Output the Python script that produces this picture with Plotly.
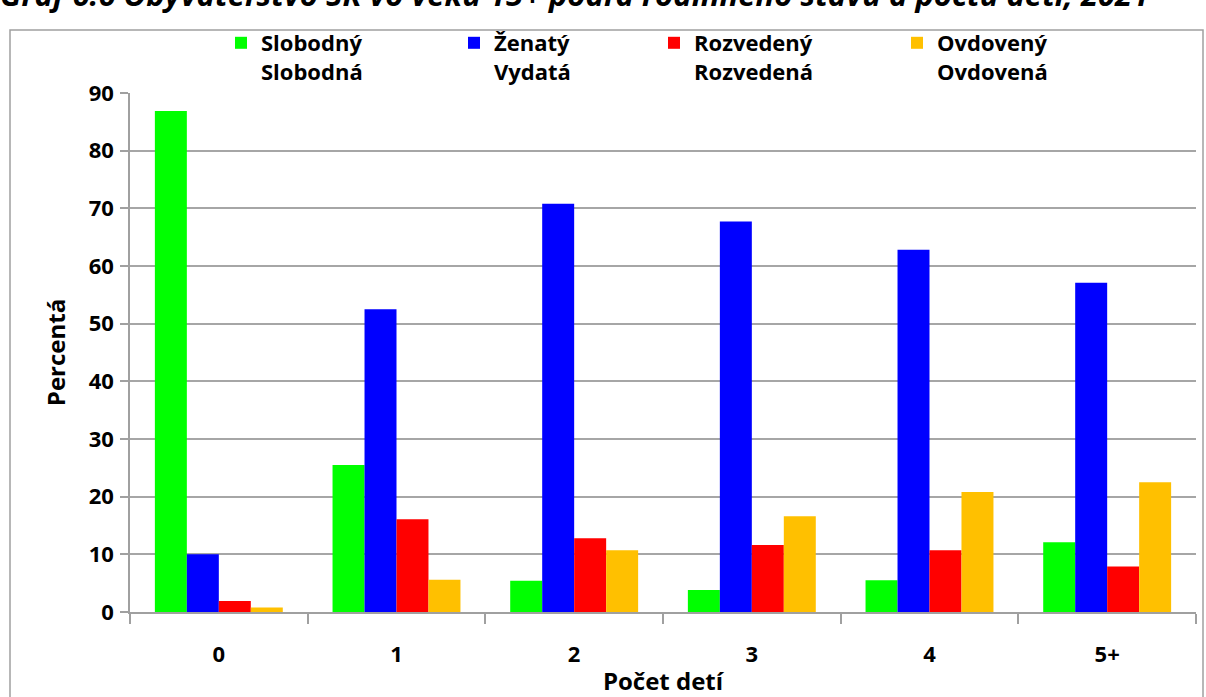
import plotly.graph_objects as go

categories = ["0", "1", "2", "3", "4", "5+"]
series_names = ["Slobodný<br>Slobodná", "Ženatý<br>Vydatá", "Rozvedený<br>Rozvedená", "Ovdovený<br>Ovdovená"]
slobodny = [86.9, 25.5, 5.4, 3.8, 5.5, 12.1]
zenaty = [10.0, 52.5, 70.8, 67.7, 62.8, 57.1]
rozvedeny = [1.9, 16.1, 12.8, 11.6, 10.7, 7.9]
ovdoveny = [0.8, 5.6, 10.7, 16.6, 20.8, 22.5]
colors = ["#00ff00", "#0000ff", "#ff0000", "#ffc000"]
y_ticks = [0, 10, 20, 30, 40, 50, 60, 70, 80, 90]
title_text = "Graf 6.6 Obyvateľstvo SR vo veku 15+ podľa rodinného stavu a počtu detí, 2021"

FONT = "Open Sans"
W, H = 1206, 697
L, R, T, B = 130, 10, 93, 85
pw = W - L - R
ph = H - T - B

def px_to_paper_x(px):
    return (px - L) / pw

def px_to_paper_y(py):
    return 1 - (py - T) / ph

fig = go.Figure()
legend_ids = ["legend", "legend2", "legend3", "legend4"]
for name, vals, col, lg in zip(series_names, [slobodny, zenaty, rozvedeny, ovdoveny], colors, legend_ids):
    fig.add_trace(go.Bar(x=categories, y=vals, name=name, marker=dict(color=col, line=dict(width=0)),
                         legend=lg))

legend_x_px = [221, 454, 654, 897]
legend_common = dict(orientation="v", yanchor="top", xanchor="left", valign="top",
                     font=dict(family=FONT, size=22, color="black", weight="bold"),
                     bgcolor="rgba(0,0,0,0)", borderwidth=0)
layout_legends = {}
for lg, xp in zip(legend_ids, legend_x_px):
    layout_legends[lg] = dict(x=px_to_paper_x(xp), y=px_to_paper_y(22), **legend_common)

fig.update_layout(
    width=W, height=H,
    margin=dict(l=L, r=R, t=T, b=B, pad=0, autoexpand=False),
    paper_bgcolor="white", plot_bgcolor="white",
    barmode="group", bargap=0.28, bargroupgap=0,
    showlegend=True,
    font=dict(family=FONT, color="black"),
    **layout_legends,
    xaxis=dict(
        type="category", showline=True, linecolor="#a0a0a0", linewidth=1.5,
        ticks="outside", tickson="boundaries", ticklen=10, tickcolor="#a0a0a0", tickwidth=1.5,
        tickfont=dict(family=FONT, size=22, color="black", weight="bold"),
        ticklabelstandoff=22, automargin=False,
        showgrid=False,
        title=dict(text="Počet detí", font=dict(family=FONT, size=24, color="black", weight="bold"), standoff=8),
    ),
    yaxis=dict(
        range=[0, 90], tickvals=y_ticks, showline=True, linecolor="#a0a0a0", linewidth=1.5,
        ticks="outside", ticklen=8, tickcolor="#a0a0a0", tickwidth=1.5,
        showgrid=True, gridcolor="#a6a6a6", gridwidth=1.5,
        zeroline=False, automargin=False,
        tickfont=dict(family=FONT, size=22, color="black", weight="bold"),
        ticklabelstandoff=2,
        title=dict(text="Percentá", font=dict(family=FONT, size=24, color="black", weight="bold"), standoff=16),
    ),
)

# chart frame
fig.add_shape(type="rect", xref="paper", yref="paper",
              x0=px_to_paper_x(10), x1=px_to_paper_x(1203),
              y0=px_to_paper_y(720), y1=px_to_paper_y(30),
              line=dict(color="#a0a0a0", width=1.5), fillcolor="rgba(0,0,0,0)", layer="below")

# title (cut off at top, as in the source)
fig.add_annotation(text=title_text, xref="paper", yref="paper",
                   x=px_to_paper_x(-2), y=px_to_paper_y(-6), xanchor="left", yanchor="middle",
                   showarrow=False,
                   font=dict(family=FONT, size=31, color="black", weight="bold", style="italic"))

fig.write_html("out.html", config={"displayModeBar": False},
               post_script="document.body.style.margin='0';document.body.style.overflow='hidden';")
